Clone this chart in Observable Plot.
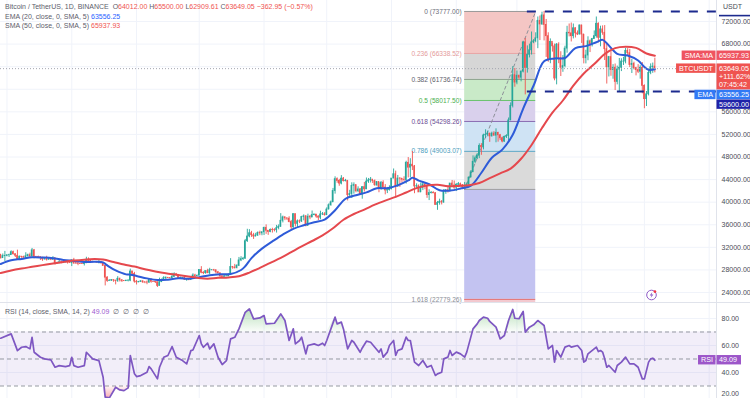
<!DOCTYPE html>
<html><head><meta charset="utf-8"><title>BTCUSDT 1D</title>
<script src="https://cdn.jsdelivr.net/npm/d3@7"></script>
<script src="https://cdn.jsdelivr.net/npm/@observablehq/plot@0.6"></script>
<style>
html,body{margin:0;padding:0;background:#fff;}
#chart{position:relative;width:750px;height:398px;overflow:hidden;font-family:"Liberation Sans",Arial,sans-serif;}
#chart svg{display:block;}
.lg{position:absolute;left:5px;font-size:7px;line-height:9px;color:#5d606b;white-space:nowrap;}
.red{color:#ef5350}.blue{color:#2962ff}.pur{color:#9c5bd0}
.sep{position:absolute;left:0;top:302px;width:750px;height:1px;background:#e0e3eb;}
.usdt{position:absolute;left:723px;top:3px;font-size:7px;color:#4a4d57;}
</style></head><body>
<div id="chart"></div>
<script>
// ---------- data (day index 0 = 2023-06-28, one candle per day, USD) ----------
const startDate = "2023-06-28";
const firstOpen = 30700;
const closes = [30080,30450,30480,30590,30620,31150,30770,30510,29900,30350,
30290,30170,30410,30620,30390,31470,30320,30290,30250,30140,
29860,29920,29800,29910,29800,30080,29180,29230,29350,29210,
29310,29360,29280,29230,29700,29180,29170,29080,29050,29040,
29180,29770,29580,29440,29400,29420,29280,29410,29170,28700,
26630,26050,26100,26190,26120,26050,26430,26160,26050,26010,
26090,26100,27720,27300,25930,25800,25870,25970,25820,25780,
25750,26240,25900,25890,25830,25160,25840,26230,26540,26600,
26570,26530,26770,27210,27130,26570,26580,26580,26250,26300,
26220,26370,27020,26910,26970,27990,27500,27430,27800,27410,
27950,27970,27940,27590,27390,26880,26760,26860,26860,27160,
28520,28420,28330,28720,29680,29910,29990,33090,33920,34500,
34150,33910,34090,34540,34480,34670,35440,34940,34730,35080,
35050,35040,35400,35630,36700,37310,37130,37070,36480,35550,
37880,36150,36600,36570,37380,37480,35800,37420,37290,37720,
37800,37450,37250,37830,37850,37720,38690,39460,39970,41980,
44080,43770,43290,44170,43720,43790,41240,41450,42890,43020,
41940,42260,41370,42660,42270,43650,43860,43990,43740,43010,
43580,42520,43440,42580,42070,42140,42280,44180,44950,42850,
44180,44160,43970,43930,46970,46110,46630,46340,42780,42840,
41730,42510,43140,42740,41260,41620,41660,41580,39510,39850,
40070,39930,41810,42120,42030,43300,42940,42580,43080,43190,
42990,42580,42660,43090,44340,45290,47150,47770,48290,49960,
49700,51820,51940,52140,51660,52140,51780,52280,51850,51320,
50730,51570,51730,54480,57050,62500,61180,62400,62050,63120,
68300,63780,66100,66900,68300,68500,69020,72120,71480,73080,
71400,69400,65300,68400,67600,61900,67900,65500,63800,64100,
67200,70000,69900,69400,70800,69900,69700,71300,69700,65500,
65980,68500,67800,68900,69400,71600,69100,70600,70000,67100,
63900,65700,63400,63800,61300,63500,63800,64900,64900,66800,
66400,64300,64500,63750,63400,63100,63800,60600,58250,59100,
62900,63900,64012,63649.05];
const highs = [30720,30820,31280,30660,30790,31380,31330,30880,31500,30450,
30380,30440,31040,30800,30970,31800,31630,30390,30440,30340,
30230,30190,30420,30050,29990,30350,30100,29380,29690,29570,
29530,29410,29450,29520,29750,30050,29410,29310,29110,29170,
29240,30240,30130,29710,29540,29470,29450,29660,29440,29220,
28780,26810,26260,26290,26260,26130,26810,26550,26300,26090,
26170,26250,28140,27760,27570,26130,25970,26120,26090,25860,
26040,26440,26430,25940,25980,25880,26540,26400,26810,26770,
26670,26620,27410,27490,27380,27160,26720,26630,26740,26420,
26390,26820,27310,27230,27080,28060,28580,27680,27830,28120,
28290,28000,28100,27990,27730,27480,26940,27100,26970,27290,
30000,28620,28980,28930,30210,30340,30220,33400,35200,35130,
34830,34480,34480,34740,34860,34720,35580,35980,34940,35270,
35380,35290,35890,35980,37970,37530,37410,37220,37420,36770,
37980,37930,36850,36840,37500,37750,37650,37870,37640,38430,
37890,37830,37590,38400,38170,38150,38990,39700,40200,42430,
44490,44300,44040,44700,44370,44040,43800,42100,43430,43420,
43090,42720,42430,42760,43500,44280,44200,44370,43810,43940,
43580,43430,43680,43790,43110,42610,42900,44180,45880,45500,
44730,44340,44190,44500,47250,47900,47700,48970,46500,43250,
43070,43400,43580,43200,42930,42200,41870,41840,41700,40130,
40530,40290,42230,42200,42840,43320,43840,43750,43290,43490,
43380,43120,43490,43400,44480,45600,48200,48160,48590,50330,
50370,52040,52820,52580,52200,52400,52490,52990,52370,52000,
51530,51700,51950,54910,57580,64000,63680,63230,62480,63230,
68500,69000,67680,67990,70140,68800,70000,72800,72970,73650,
73777,72360,70000,68920,68130,68000,68100,68240,66650,65970,
67620,71150,71560,71730,71550,70900,70330,71370,71340,69700,
66910,69290,68720,69010,70330,72800,71760,71170,71230,71280,
67930,65820,66870,64360,64470,64100,65450,65400,65660,67230,
67200,67070,65300,64790,63880,64360,64180,64730,60780,59600,
63320,64490,64640,65500.00];
const lows = [29920,30050,29500,30320,30200,30600,30640,30200,29850,29700,
30050,30070,29950,30290,30200,30250,29970,30250,30070,29670,
29520,29760,29570,29720,29650,29740,28860,29060,29100,29090,
29130,29260,29030,29130,28590,28960,28960,28750,28960,28970,
28700,29110,29370,29310,29270,29360,29250,29070,29050,28700,
25170,25800,25990,25970,25810,25350,25800,25860,25780,25980,
25960,25880,25920,27070,25660,25330,25730,25800,25600,25560,
25380,25610,25650,25800,25590,24900,25130,25750,26130,26220,
26470,26410,26380,26670,26870,26360,26480,26500,26130,25990,
26090,26120,26340,26670,26880,26950,27320,27160,27250,27360,
27170,27840,27710,27280,27300,26560,26560,26700,26810,26810,
27130,28110,28140,28180,28600,29470,29680,29880,32860,33690,
33760,33400,33870,33930,34070,34050,34100,34300,34120,34580,
34530,34740,34530,35100,35540,36330,36730,36750,36340,35080,
35360,35600,35510,36210,36400,36690,35630,35760,36890,37250,
37590,37150,36740,36880,37630,37520,37620,38650,39280,39960,
41420,43350,42820,43070,43580,43590,40220,40680,40650,41420,
41660,41680,41250,40530,41790,42220,43330,43400,43310,42800,
42760,41670,42100,42300,41300,41520,41970,42190,44150,40750,
42620,42630,43400,43650,43210,44300,44330,45600,41500,42430,
41720,41700,42050,42200,40680,40280,41450,41500,39430,38560,
39470,39510,39820,41390,41620,41800,42680,42270,41880,42560,
42880,42220,42260,42580,42790,44330,45240,46800,47550,47710,
48300,49260,51300,51590,50600,51530,51680,50520,50630,50920,
50510,50590,51280,50900,54430,56690,60360,60800,61700,61320,
62900,59000,62860,65550,66060,68070,68230,67190,68620,71330,
68560,65630,64780,64520,66580,61500,60780,64530,62260,63000,
63780,66390,69280,68380,68920,69080,69510,69620,68110,64490,
64490,65050,66500,67490,68860,69050,68210,67520,69560,65090,
60920,62180,62300,61770,59770,60780,59600,63130,64210,64500,
65800,63840,62790,63460,62370,62780,61790,59190,56550,56940,
58820,62580,62820,62909.61];

// EMA (20) and SMA (50)
const emaDays = [0,5,10,15,20,25,30,35,40,45,49,50,52,55,60,62,65,70,75,80,85,90,95,100,105,110,115,117,120,125,130,135,140,145,150,155,160,165,170,175,180,185,190,195,197,200,205,210,215,220,225,230,235,240,245,250,255,260,265,270,275,280,285,288,290,295,300,305,308,310,313];
const emaValues = [29058,29701,29953,30234,30201,30085,29761,29600,29404,29444,29335,29077,28533,27907,27208,27162,26936,26501,26209,26280,26504,26450,26712,27076,27243,27270,27990,28647,30086,31775,33060,34270,35280,35917,36450,36920,38570,40610,41220,41730,42470,42485,42980,43840,44318,43820,43180,42100,42050,42410,42930,45210,47860,49310,51950,56580,60660,64940,65460,65540,67300,67640,68330,68748,68140,66280,65980,65100,63955,63440,63556.25];
const smaDays = [0,5,10,15,20,25,30,35,40,45,49,54,59,64,69,74,79,84,89,94,99,104,109,114,119,124,129,134,139,144,149,154,159,164,169,174,179,184,189,194,199,204,209,214,219,224,229,234,239,244,249,254,259,264,269,274,279,284,289,294,299,304,309,313];
const smaValues = [27450,27900,28250,28550,28850,29150,29420,29650,29820,29920,29827,29404,28965,28590,28125,27732,27398,27145,26880,26602,26445,26600,26677,26887,27531,28362,29252,30124,31149,32171,33122,34109,35375,36882,37902,38689,39556,40284,40941,41714,42493,42957,43085,42824,42878,42981,43385,44247,45106,45953,47684,50124,53124,55847,58009,60642,62794,64461,66241,67292,67545,67325,66338,65937.93];

// RSI (14)
const rsiDays = [0,5,8,10,12,14,15,16,19,21,24,26,28,31,33,34,35,37,40,41,44,47,49,50,52,55,57,59,61,62,64,65,67,70,71,72,75,76,78,80,82,84,87,89,91,92,95,96,97,99,100,102,104,106,108,110,112,114,117,119,121,124,126,127,131,134,136,138,140,141,143,144,146,147,150,152,154,155,156,160,161,163,164,166,168,169,172,173,175,177,179,181,182,183,185,186,188,189,190,192,194,195,196,198,200,202,204,206,208,209,211,212,214,215,216,218,220,222,223,226,228,229,231,233,234,237,239,241,243,245,246,248,250,251,253,255,257,258,260,262,264,265,266,268,270,272,273,276,278,279,280,281,285,286,287,288,289,290,291,294,295,297,299,301,303,304,305,307,308,310,311,312,313];
const rsiValues = [65.4,68.6,56.2,58.7,59.2,57.5,66.1,55.0,51.3,50.1,49.3,43.9,45.1,44.4,45.1,51.3,45.1,43.9,45.1,55.0,50.1,48.8,36.5,21.7,21.2,29.1,27.1,26.6,28.6,52.6,39.0,37.0,37.7,40.2,44.4,42.7,35.3,43.9,51.3,52.6,59.2,51.3,48.8,46.4,56.2,56.7,67.4,61.2,58.7,61.7,57.5,61.2,51.3,45.9,48.8,64.9,66.1,72.3,84.6,87.1,79.7,80.4,82.2,76.0,76.5,83.4,78.5,63.7,72.3,61.2,63.7,66.1,53.8,60.0,61.2,60.0,61.7,60.0,63.7,81.0,76.0,77.3,72.3,57.5,63.7,62.4,55.0,58.2,63.2,62.4,58.7,55.0,57.5,51.4,55.1,60.0,63.7,52.6,56.3,57.5,66.2,63.7,63.7,47.7,45.2,48.9,43.9,45.2,37.8,39.0,40.2,50.1,51.4,56.3,52.6,55.1,53.8,51.4,55.1,72.3,76.0,78.5,81.0,80.2,77.8,73.6,64.9,67.4,78.5,86.7,80.2,79.8,85.2,69.9,73.6,75.3,78.5,77.3,74.8,57.5,60.0,47.7,56.3,51.4,58.8,60.0,58.8,60.0,56.3,47.7,48.9,53.8,58.8,55.5,56.3,55.1,50.1,43.9,45.2,40.2,45.2,47.7,51.4,46.4,46.4,45.2,43.9,35.3,35.3,47.7,50.1,50.6,49.09];

// axes, grid, drawings
const priceTicks = [24000,28000,32000,36000,40000,44000,48000,52000,56000,60000,64000,68000,72000];
const rsiTicks = [20,40,60,80];
const rsiLevels = [30,50,70];
const monthDays = [3,34,65,95,126,156,187,218,247,278,308,339];
const fibLevels = [0,0.236,0.382,0.5,0.618,0.786,1,1.618];
const fibPrices = [73777.00,66338.52,61736.74,58017.50,54298.26,49003.07,42258.00,22779.26];
const fibStartDay = 222, fibEndDay = 256;
const hLevels = [73777, 59600];
const hLineStartDay = 252;
const countdown = ["+111.62%", "07:45:42"];

// ---------- styles ----------
const FONT = '"Liberation Sans", Arial, sans-serif';
const W = 750, AXIS_W = 34, PRICE_H = 302, RSI_H = 96;
const xDomain = [-0.1, 342.5];
const priceDomain = [22230, 75720];
const rsiDomain = [20.74, 91.85];
const GRID = "#f0f3fa", UP = "#26a69a", DOWN = "#ef5350";
const EMA_C = "#2e5bd8", SMA_C = "#e5484d", NAVY = "#1c2a8e", RSI_C = "#7e57c2";
const fibBandFill = ["#f4c6c4","#d6d6d6","#c9eac8","#d9d0ec","#cfe3f4","#dadada","#c3c3f1"];
const fibLineColor = ["#9a9a9a","#e8a5a5","#8fa38f","#66c26a","#8a6ab0","#5aa8c8","#a0a0a0","#e57373"];
const fibLabelColor = ["#6b6e78","#e49a9a","#5d606b","#4caf50","#6b4d94","#4a9dbd",null,"#8a8d96"];

// ---------- derived tables ----------
const candles = closes.map((c, i) => ({day: i, o: i === 0 ? firstOpen : closes[i - 1], c, h: highs[i], l: lows[i]}));
const emaPts = emaDays.map((d, k) => ({day: d, v: emaValues[k]}));
const smaPts = smaDays.map((d, k) => ({day: d, v: smaValues[k]}));
const rsiPts = rsiDays.map((d, k) => ({day: d, v: rsiValues[k]}));
const fibBands = fibPrices.slice(0, -1).map((p, k) => ({top: p, bot: fibPrices[k + 1], fill: fibBandFill[k]}))
  .concat([{top: fibPrices[fibPrices.length - 1], bot: priceDomain[0], fill: "#f3c9cf"}]);
const fibLines = fibPrices.map((p, k) => ({p, color: fibLineColor[k]}));
const fibLabels = fibPrices.map((p, k) => ({p, color: fibLabelColor[k], label: `${fibLevels[k]} (${p.toFixed(2)})`}))
  .filter(d => d.color);
const fibDiag = [{day: fibStartDay, p: fibPrices[6]}, {day: fibEndDay, p: fibPrices[0]}];
const last = candles[candles.length - 1];
const fmt = v => v.toFixed(2);
const emaLast = emaValues[emaValues.length - 1], smaLast = smaValues[smaValues.length - 1];
const rLast = rsiValues[rsiValues.length - 1];

// ---------- axis-tag layout (right price scale), stacked so that tags never overlap ----------
const TAG_H = 9.4, TAG_LH = 8.3;
const yPx = d3.scaleLinear(priceDomain, [PRICE_H, 0]);   // same mapping as the Plot y scale below
const tagSpecs = [
  {v: smaLast, lines: [fmt(smaLast)], fill: "#ef5360", label: "SMA:MA"},
  {v: last.c, lines: [fmt(last.c), ...countdown], fill: DOWN, label: "BTCUSDT"},
  {v: emaLast, lines: [fmt(emaLast)], fill: "#3179f5", label: "EMA"},
  {v: hLevels[1], lines: [fmt(hLevels[1])], fill: "#1f22a8"}
];
let prevBottom = -Infinity;
for (const t of tagSpecs) {
  t.top = Math.max(yPx(t.v) - TAG_H / 2, prevBottom + 0.3);
  t.bottom = t.top + TAG_H + (t.lines.length - 1) * TAG_LH;
  prevBottom = t.bottom;
}
// price-scale labels that sit under a tag are hidden in the original
const visiblePriceTicks = priceTicks.filter(p => !tagSpecs.some(t => yPx(p) >= t.top && yPx(p) <= t.bottom));

// ---------- price panel ----------
const pricePlot = Plot.plot({
  width: W, height: PRICE_H, marginTop: 0, marginBottom: 0, marginLeft: 0, marginRight: AXIS_W,
  style: {fontFamily: FONT, fontSize: "7px", color: "#4a4d57", background: "transparent", overflow: "visible"},
  x: {domain: xDomain, axis: null},
  y: {domain: priceDomain, label: null},
  color: {type: "identity"},
  marks: [
    Plot.ruleY(priceTicks, {stroke: GRID}),
    Plot.ruleX(monthDays, {stroke: GRID}),
    Plot.rect(fibBands, {x1: fibStartDay, x2: fibEndDay, y1: "top", y2: "bot", fill: "fill"}),
    Plot.ruleY(fibLines, {y: "p", x1: fibStartDay, x2: fibEndDay, stroke: "color", strokeWidth: 1}),
    Plot.line(fibDiag, {x: "day", y: "p", stroke: "#8d9099", strokeWidth: 1, strokeDasharray: "3,3"}),
    Plot.text(fibLabels, {x: fibStartDay, y: "p", text: "label", textAnchor: "end", dx: -3, fill: "color", fontSize: 6.6}),
    Plot.ruleX(candles, {x: "day", y1: "l", y2: "h", stroke: d => d.c >= d.o ? UP : DOWN, strokeWidth: 0.9}),
    Plot.rect(candles, {x1: d => d.day - 0.36, x2: d => d.day + 0.36, y1: "o", y2: "c",
      fill: d => d.c >= d.o ? UP : DOWN, insetTop: -0.4, insetBottom: -0.4}),
    Plot.line(emaPts, {x: "day", y: "v", stroke: EMA_C, strokeWidth: 2, curve: "catmull-rom"}),
    Plot.line(smaPts, {x: "day", y: "v", stroke: SMA_C, strokeWidth: 2, curve: "catmull-rom"}),
    Plot.ruleY(hLevels, {x1: hLineStartDay, x2: xDomain[1], stroke: NAVY, strokeWidth: 2, strokeDasharray: "9,9"}),
    Plot.ruleY([last.c], {stroke: "#a3a6af", strokeDasharray: "1,2"}),
    Plot.ruleX([xDomain[1]], {stroke: "#e0e3eb"}),
    Plot.axisY(visiblePriceTicks, {anchor: "right", tickSize: 0, tickPadding: 5, tickFormat: d => d.toFixed(2), fontSize: 7})
  ]
});

// ---------- RSI panel ----------
const rsiPlot = Plot.plot({
  width: W, height: RSI_H, marginTop: 0, marginBottom: 0, marginLeft: 0, marginRight: AXIS_W,
  style: {fontFamily: FONT, fontSize: "7px", color: "#4a4d57", background: "transparent", overflow: "visible"},
  x: {domain: xDomain, axis: null},
  y: {domain: rsiDomain, label: null},
  color: {type: "identity"},
  marks: [
    Plot.ruleY(rsiTicks, {stroke: GRID}),
    Plot.ruleX(monthDays, {stroke: GRID}),
    Plot.rect([0], {x1: xDomain[0], x2: xDomain[1], y1: rsiLevels[0], y2: rsiLevels[2], fill: RSI_C, fillOpacity: 0.1}),
    Plot.ruleY(rsiLevels, {stroke: "#9598a1", strokeDasharray: "4,3", strokeWidth: 1}),
    Plot.areaY(rsiPts, {x: "day", y1: rsiLevels[2], y2: d => Math.max(rsiLevels[2], d.v), fill: "url(#rsiOB)"}),
    Plot.areaY(rsiPts, {x: "day", y1: rsiLevels[0], y2: d => Math.min(rsiLevels[0], d.v), fill: "url(#rsiOS)"}),
    Plot.line(rsiPts, {x: "day", y: "v", stroke: RSI_C, strokeWidth: 1.7}),
    Plot.ruleX([xDomain[1]], {stroke: "#e0e3eb"}),
    Plot.axisY(rsiTicks.slice(1), {anchor: "right", tickSize: 0, tickPadding: 5, tickFormat: d => d.toFixed(2), fontSize: 7}),
    // the lowest label sits on the window's bottom edge; lift it just enough to stay inside
    Plot.axisY(rsiTicks.slice(0, 1), {anchor: "right", tickSize: 0, tickPadding: 5, tickFormat: d => d.toFixed(2), fontSize: 7, dy: -5.5})
  ]
});

const chart = document.getElementById("chart");
chart.append(pricePlot, rsiPlot);

// gradients for RSI over/under zones
const ry = rsiPlot.scale("y");
const defs = d3.select(rsiPlot).insert("defs", ":first-child");
const gOB = defs.append("linearGradient").attr("id", "rsiOB").attr("gradientUnits", "userSpaceOnUse")
  .attr("x1", 0).attr("x2", 0).attr("y1", ry.apply(90)).attr("y2", ry.apply(70));
gOB.append("stop").attr("offset", 0).attr("stop-color", "#4caf50").attr("stop-opacity", 0.45);
gOB.append("stop").attr("offset", 1).attr("stop-color", "#4caf50").attr("stop-opacity", 0.03);
const gOS = defs.append("linearGradient").attr("id", "rsiOS").attr("gradientUnits", "userSpaceOnUse")
  .attr("x1", 0).attr("x2", 0).attr("y1", ry.apply(30)).attr("y2", ry.apply(20));
gOS.append("stop").attr("offset", 0).attr("stop-color", "#f23645").attr("stop-opacity", 0.03);
gOS.append("stop").attr("offset", 1).attr("stop-color", "#f23645").attr("stop-opacity", 0.45);

// ---------- axis tags ----------
function addTag(svg, {top, lines, fill, label, x0 = 716.5, w = 33.5}) {
  const h = TAG_H + (lines.length - 1) * TAG_LH;
  const g = svg.append("g").attr("font-family", FONT).attr("font-size", 7.2);
  g.append("rect").attr("x", x0).attr("y", top).attr("width", w).attr("height", h).attr("fill", fill);
  lines.forEach((t, k) => g.append("text").attr("x", x0 + 2.5).attr("y", top + TAG_H / 2 + k * TAG_LH)
    .attr("dy", "0.35em").attr("text-anchor", "start").attr("fill", "#fff").text(t));
  if (label) {
    const lg = g.append("g");
    const r = lg.append("rect").attr("y", top).attr("height", TAG_H).attr("fill", fill);
    const t = lg.append("text").attr("x", x0 - 3.5).attr("y", top + TAG_H / 2).attr("dy", "0.35em")
      .attr("text-anchor", "end").attr("fill", "#fff").text(label);
    const tw = t.node().getComputedTextLength();
    r.attr("x", x0 - tw - 6.5).attr("width", tw + 5.5);
  }
}
const ps = d3.select(pricePlot);
for (const t of tagSpecs) addTag(ps, t);
ps.append("rect").attr("x", 719).attr("y", 14.8).attr("width", 31).attr("height", 1.6).attr("fill", NAVY);
addTag(d3.select(rsiPlot), {top: ry.apply(rLast) - TAG_H / 2, lines: [fmt(rLast)], fill: "#9c56c9", label: "RSI", w: 24.5});

// small icon near bottom-right of price pane
const ic = ps.append("g").attr("transform", "translate(651.5,295)");
ic.append("circle").attr("r", 4.8).attr("fill", "#fff").attr("stroke", "#8e5bc7").attr("stroke-width", 1);
ic.append("path").attr("d", "M0.8,-3 L-1.8,0.4 L0,0.4 L-0.8,3 L1.9,-0.5 L0.1,-0.5 Z").attr("fill", "#8e5bc7");
ic.append("circle").attr("cx", 3.4).attr("cy", -3.4).attr("r", 1.4).attr("fill", "#f23645");

// ---------- legends ----------
function legend(top, html) {
  const d = document.createElement("div");
  d.className = "lg"; d.style.top = top + "px"; d.innerHTML = html; chart.appendChild(d);
}
const chg = last.c - last.o, pct = chg / last.o * 100;
const sgn = v => (v < 0 ? "\u2212" : "+") + Math.abs(v).toFixed(2);
legend(2, `Bitcoin / TetherUS, 1D, BINANCE&nbsp; O<span class="red">${fmt(last.o)}</span> H<span class="red">${fmt(last.h)}</span> L<span class="red">${fmt(last.l)}</span> C<span class="red">${fmt(last.c)}</span> <span class="red">${sgn(chg)} (${sgn(pct)}%)</span>`);
legend(11.5, `EMA (20, close, 0, SMA, 5) <span class="blue">${fmt(emaLast)}</span>`);
legend(21, `SMA (50, close, 0, SMA, 5) <span class="red">${fmt(smaLast)}</span>`);
legend(307, `RSI (14, close, SMA, 14, 2) <span class="pur">${fmt(rLast)}</span> &nbsp;∅ &nbsp;∅ &nbsp;∅ &nbsp;∅`);
const u = document.createElement("div"); u.className = "usdt"; u.textContent = "USDT"; chart.appendChild(u);
const sep = document.createElement("div"); sep.className = "sep"; chart.appendChild(sep);
</script></body></html>
